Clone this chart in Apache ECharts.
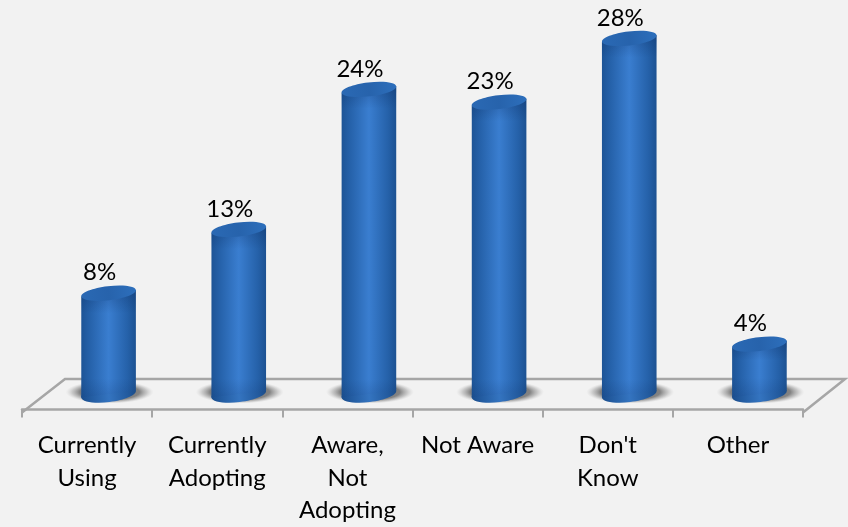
<!DOCTYPE html>
<html><head><meta charset="utf-8">
<style>html,body{margin:0;padding:0;background:#f2f2f2}#c{width:848px;height:527px}</style>
<script src="https://cdn.jsdelivr.net/npm/echarts@6/dist/echarts.min.js"></script>
</head><body><div id="c"></div>
<script>
const categories = ['Currently\nUsing','Currently\nAdopting','Aware,\nNot\nAdopting','Not Aware',"Don't\nKnow",'Other'];
const values = [8,13,24,23,28,4];
const valueLabels = ['8%','13%','24%','23%','28%','4%'];

const chart = echarts.init(document.getElementById('c'));
const FONT = 'Lato, "Open Sans", sans-serif';
const DEPTH_X = 21.5, HALF_W = 27.5, RY_TOP = 7, RY_BASE = 8, TILT = 0.12;
const dx = HALF_W*Math.cos(TILT), dy = HALF_W*Math.sin(TILT);
const bodyGrad = () => new echarts.graphic.LinearGradient(0,0,1,0,[
  {offset:0,color:'#1d5496'},{offset:0.15,color:'#2561a9'},{offset:0.5,color:'#3a7ed0'},
  {offset:0.85,color:'#2561a9'},{offset:1,color:'#1d5292'}]);

function renderItem(params, api){
  const i = api.value(0);
  const top = api.coord([i, api.value(1)]);
  const zero = api.coord([i, 0]);
  const cx = top[0] + DEPTH_X, cyTop = top[1], cyBase = zero[1] - 1;
  const h = cyBase - cyTop;
  const shade = new echarts.graphic.LinearGradient(0,0,0,1,[
    {offset:0,color:'rgba(10,40,90,0.3)'},{offset:Math.min(0.35,22/h),color:'rgba(10,40,90,0)'},
    {offset:Math.max(0.65,1-18/h),color:'rgba(10,40,90,0)'},{offset:1,color:'rgba(10,40,90,0.18)'}]);
  const corners = [[cx-dx,cyTop+dy],[cx+dx,cyTop-dy],[cx+dx,cyBase-dy],[cx-dx,cyBase+dy]];
  return {type:'group',children:[
    {type:'circle',x:cx+1,y:cyBase-2,scaleY:0.26,shape:{cx:0,cy:0,r:44},
      style:{fill:new echarts.graphic.RadialGradient(0.5,0.5,0.5,[
        {offset:0,color:'rgba(110,110,110,1)'},{offset:0.68,color:'rgba(125,125,125,0.95)'},
        {offset:0.85,color:'rgba(160,160,160,0.5)'},{offset:1,color:'rgba(200,200,200,0)'}])}},
    {type:'ellipse',x:cx,y:cyBase,rotation:TILT,shape:{cx:0,cy:0,rx:HALF_W,ry:RY_BASE},
      style:{fill:new echarts.graphic.LinearGradient(0,0,1,0,[
        {offset:0,color:'#1b4e8d'},{offset:0.15,color:'#225a9e'},{offset:0.5,color:'#3474c0'},
        {offset:0.85,color:'#225a9e'},{offset:1,color:'#1b4c88'}])}},
    {type:'polygon',shape:{points:corners},style:{fill:bodyGrad()}},
    {type:'polygon',shape:{points:corners},style:{fill:shade}},
    {type:'ellipse',x:cx,y:cyTop,rotation:TILT,shape:{cx:0,cy:0,rx:HALF_W,ry:RY_TOP},
      style:{fill:new echarts.graphic.LinearGradient(0,0,1,0,[
        {offset:0,color:'#2a69b4'},{offset:0.5,color:'#2763ac'},{offset:1,color:'#2d6fbc'}])}},
    {type:'text',x:cx-9,y:cyTop-20.5,style:{text:valueLabels[i],fill:'#000',font:'24px '+FONT,align:'center',verticalAlign:'middle'}}
  ]};
}

chart.setOption({
  animation:false,
  backgroundColor:'#f2f2f2',
  grid:{left:22,right:45,top:13,bottom:114.5},
  graphic:[{type:'polyline',z:0,shape:{points:[[22,412.5],[65,379],[845,379],[803,412.5]]},
    style:{stroke:'#a6a6a6',lineWidth:2.5,fill:null}}],
  xAxis:{type:'category',data:categories,boundaryGap:true,
    axisLine:{show:true,onZero:false,lineStyle:{color:'#a6a6a6',width:2.5}},
    axisTick:{show:true,alignWithLabel:false,length:8,lineStyle:{color:'#a6a6a6',width:2}},
    axisLabel:{color:'#000',fontFamily:FONT,fontSize:24,lineHeight:32.5,margin:20,interval:0}},
  yAxis:{type:'value',min:-1.13,max:30,show:false,splitLine:{show:false}},
  series:[{type:'custom',z:3,clip:false,renderItem,encode:{x:0,y:1},
    data:values.map((v,i)=>[i,v])}]
});
</script></body></html>
